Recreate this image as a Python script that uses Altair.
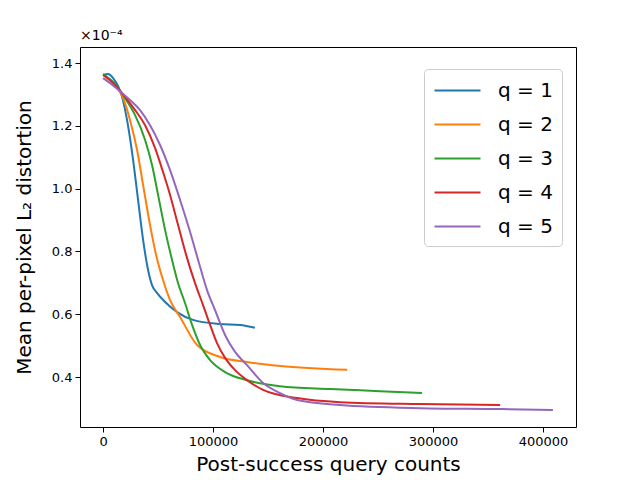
import altair as alt
import pandas as pd

# Values in units of 1e-4
q1_x = [0, 4500, 9100, 17300, 21800, 27300, 31800, 36400, 40900, 44500, 49000, 56400, 67300, 81800, 106000, 124500, 138000]
q1_y = [1.362, 1.365, 1.352, 1.292, 1.218, 1.091, 0.964, 0.836, 0.741, 0.693, 0.668, 0.639, 0.607, 0.582, 0.569, 0.566, 0.557]

q2_x = [0, 10900, 18200, 24500, 30900, 36400, 42700, 48200, 54500, 60900, 70000, 85500, 106400, 130900, 160900, 222000]
q2_y = [1.362, 1.330, 1.288, 1.218, 1.123, 1.011, 0.884, 0.789, 0.709, 0.645, 0.591, 0.502, 0.464, 0.448, 0.435, 0.423]

q3_x = [0, 10900, 20000, 29100, 38200, 44500, 50000, 56400, 62700, 68200, 74500, 80900, 88200, 97300, 110900, 130900, 160900, 206400, 251800, 290000]
q3_y = [1.365, 1.333, 1.288, 1.234, 1.155, 1.075, 0.980, 0.868, 0.773, 0.699, 0.636, 0.566, 0.502, 0.454, 0.416, 0.390, 0.371, 0.362, 0.355, 0.349]

q4_x = [0, 10900, 20000, 29100, 38200, 47300, 54500, 60900, 68200, 75500, 83600, 90900, 97300, 103600, 110900, 120000, 130900, 145500, 176400, 215500, 288200, 361000]
q4_y = [1.362, 1.330, 1.292, 1.250, 1.202, 1.129, 1.053, 0.980, 0.884, 0.789, 0.699, 0.629, 0.566, 0.508, 0.461, 0.422, 0.390, 0.359, 0.333, 0.320, 0.314, 0.311]

q5_x = [0, 7300, 16400, 24500, 33600, 42700, 51800, 60900, 70000, 79100, 86400, 94500, 101800, 110900, 120000, 130900, 145500, 160900, 176400, 215500, 288200, 361000, 409000]
q5_y = [1.352, 1.333, 1.307, 1.282, 1.250, 1.202, 1.139, 1.059, 0.964, 0.862, 0.773, 0.677, 0.613, 0.534, 0.480, 0.438, 0.381, 0.349, 0.327, 0.311, 0.301, 0.298, 0.295]

labels = ["q = 1", "q = 2", "q = 3", "q = 4", "q = 5"]
colors = ["#1f77b4", "#ff7f0e", "#2ca02c", "#d62728", "#9467bd"]
x_ticks = [0, 100000, 200000, 300000, 400000]
y_ticks = [0.4, 0.6, 0.8, 1.0, 1.2, 1.4]

rows = []
for lab, xs, ys in zip(labels, [q1_x, q2_x, q3_x, q4_x, q5_x], [q1_y, q2_y, q3_y, q4_y, q5_y]):
    for i, (a, b) in enumerate(zip(xs, ys)):
        rows.append({"series": lab, "x": a, "y": b, "order": i})
df = pd.DataFrame(rows)

lines = alt.Chart(df).mark_line(strokeWidth=2, interpolate="monotone").encode(
    x=alt.X("x:Q", scale=alt.Scale(domain=[-21000, 430000], nice=False, zero=False),
            axis=alt.Axis(values=x_ticks, format="d", title="Post-success query counts")),
    y=alt.Y("y:Q", scale=alt.Scale(domain=[0.241, 1.451], nice=False, zero=False),
            axis=alt.Axis(values=y_ticks, format=".1f", title="Mean per-pixel L₂ distortion")),
    color=alt.Color("series:N", scale=alt.Scale(domain=labels, range=colors),
                    legend=alt.Legend(title=None, orient="none", legendX=344, legendY=22,
                                      symbolType="M-2,0H2", symbolStrokeWidth=2, symbolSize=529,
                                      symbolOffset=12,
                                      labelFontSize=20, labelFont="DejaVu Sans", labelColor="#000",
                                      rowPadding=11, padding=9, labelOffset=28,
                                      fillColor="white", strokeColor="#cccccc", cornerRadius=4)),
    order="order:Q",
)

offset = alt.Chart(pd.DataFrame({"t": ["×10⁻⁴"]})).mark_text(
    align="left", baseline="bottom", fontSize=14, font="DejaVu Sans", color="#000"
).encode(text="t:N", x=alt.value(0), y=alt.value(-4))

chart = alt.layer(lines, offset).properties(
    width=496, height=380,
    autosize=alt.AutoSizeParams(type="none"),
    padding={"left": 72, "top": 39, "right": 56, "bottom": 60},
).configure_view(stroke="black", strokeWidth=1).configure_axis(
    grid=False, domain=False, tickColor="black", tickSize=5, labelColor="black",
    labelFont="DejaVu Sans", labelFontSize=13, titleFont="DejaVu Sans", titleFontSize=20,
    titleFontWeight="normal", titleColor="black", labelPadding=3
).configure_axisX(titlePadding=6).configure_axisY(titlePadding=17)

chart.save("out.html", embed_options={"renderer": "svg", "actions": False})
